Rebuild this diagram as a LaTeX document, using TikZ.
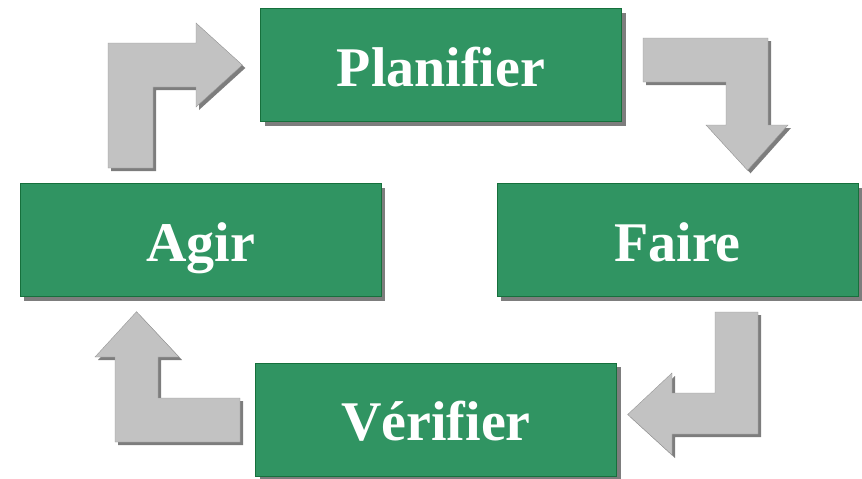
\documentclass[tikz,border=0pt]{standalone}
\usepackage{fontspec}
\setmainfont{Liberation Serif}
\usepackage{tikz}
\usetikzlibrary{arrows.meta,
                calc,
                positioning,
                shadows}
\definecolor{vertpdca}{RGB}{48,148,98}
\definecolor{vertbord}{RGB}{22,112,60}
\definecolor{grisfleche}{RGB}{194,194,194}
\definecolor{grisbord}{RGB}{150,150,150}
\definecolor{grisombre}{RGB}{125,125,125}
\tikzset{
	%Define style for boxes
	etape/.style={
	       rectangle,
	       draw=vertbord, thin,
	       fill=vertpdca,
	       minimum width=361pt,
	       minimum height=113pt,
	       inner sep=0pt,
	       text=white,
	       font=\fontsize{56}{60}\selectfont\bfseries,
	       text height=42pt,
	       text depth=0pt,
	       drop shadow={shadow xshift=4pt, shadow yshift=-4pt,
	                    fill=grisombre, opacity=1}},
	% Define style for block arrows
	fleche/.style={
	       draw=grisbord, thin,
	       fill=grisfleche,
	       drop shadow={shadow xshift=3pt, shadow yshift=-3pt,
	                    fill=grisombre, opacity=1}}
}
\begin{document}
\begin{tikzpicture}[x=1pt, y=-1pt]
		\useasboundingbox (0,0) rectangle (862,479);
		\node[etape](planifier) at (441,65){Planifier};
		\node[etape](agir) at (200.5,240){Agir};
		\node[etape](faire) at (677.5,240){Faire};
		\node[etape](verifier) at (436,419.5){V\'erifier};
		% agir -> planifier
		\filldraw[fleche] (108,168) -- (108,43) -- (196,43) -- (196,23)
		  -- ($(planifier.west)+(-18,0)$) -- (196,107) -- (196,87)
		  -- (153,87) -- (153,168) -- cycle;
		% planifier -> faire
		\filldraw[fleche] (643,38) -- (768,38) -- (768,125) -- (788,125)
		  -- ($(faire.north)+(70,-13)$) -- (706,125) -- (726,125)
		  -- (726,82) -- (643,82) -- cycle;
		% faire -> verifier
		\filldraw[fleche] (715,312) -- (758,312) -- (758,434) -- (672,434)
		  -- (672,455) -- ($(verifier.east)+(11,-5)$) -- (672,373)
		  -- (672,393) -- (715,393) -- cycle;
		% verifier -> agir
		\filldraw[fleche] (240,398) -- (240,442) -- (115,442) -- (115,357)
		  -- (95,357) -- ($(agir.south)+(-64,15)$) -- (179,357)
		  -- (158,357) -- (158,398) -- cycle;
	\end{tikzpicture}
\end{document}
